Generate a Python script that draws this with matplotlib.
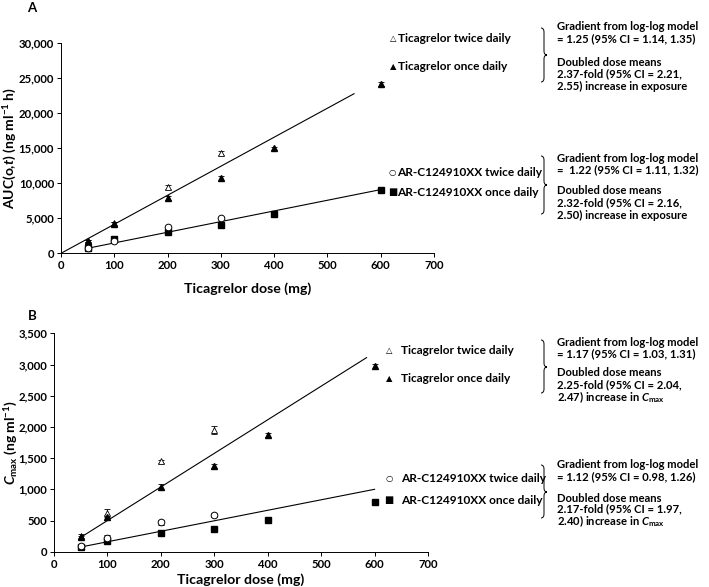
import matplotlib
matplotlib.use("Agg")
import matplotlib.pyplot as plt
from matplotlib import font_manager
from matplotlib.path import Path
from matplotlib.patches import PathPatch

# pick a family that really has a bold face installed
base = 'DejaVu Sans'
for fam in ['Lato', 'Open Sans', 'Noto Sans', 'Roboto']:
    ws = [f.weight for f in font_manager.fontManager.ttflist if f.name == fam]
    ws = [w if isinstance(w, int) else 700 if 'bold' in str(w) else 400 for w in ws]
    if any(w >= 600 for w in ws):
        base = fam
        break

plt.rcParams['font.family'] = [base, 'DejaVu Sans']
plt.rcParams['font.weight'] = 'bold'
plt.rcParams['mathtext.fontset'] = 'custom'
plt.rcParams['mathtext.rm'] = base + ':bold'
plt.rcParams['mathtext.it'] = base + ':bold:italic'
plt.rcParams['mathtext.bf'] = base + ':bold'

# ---- panel A: AUC ----
a_tbid_x = [50, 100, 200, 300]
a_tbid_y = [1800, 4300, 9500, 14300]
a_tbid_e = [150, 200, 250, 250]
a_tqd_x = [50, 100, 200, 300, 400, 600]
a_tqd_y = [1700, 4200, 7900, 10700, 15000, 24200]
a_tqd_e = [150, 250, 250, 300, 250, 250]
a_abid_x = [50, 100, 200, 300]
a_abid_y = [800, 1800, 3700, 5100]
a_aqd_x = [50, 100, 200, 300, 400, 600]
a_aqd_y = [700, 2000, 3100, 4000, 5600, 9000]
a_fit_t_x = [0, 550]
a_fit_t_y = [0, 22800]
a_fit_a_x = [50, 600]
a_fit_a_y = [720, 9100]

# ---- panel B: Cmax ----
b_tbid_x = [50, 100, 200, 300]
b_tbid_y = [250, 620, 1450, 1950]
b_tbid_e = [30, 60, 25, 70]
b_tqd_x = [50, 100, 200, 300, 400, 600]
b_tqd_y = [230, 550, 1040, 1370, 1870, 2970]
b_tqd_e = [25, 40, 45, 30, 25, 40]
b_abid_x = [50, 100, 200, 300]
b_abid_y = [85, 220, 470, 590]
b_abid_e = [15, 50, 40, 30]
b_aqd_x = [50, 100, 200, 300, 400, 600]
b_aqd_y = [80, 170, 300, 370, 510, 800]
b_fit_t_x = [50, 585]
b_fit_t_y = [230, 3110]
b_fit_a_x = [50, 600]
b_fit_a_y = [75, 1000]

W, H = 709, 587
fig = plt.figure(figsize=(W / 100, H / 100), dpi=100)


def px_axes(l, r, t, b):
    return fig.add_axes([l / W, 1 - b / H, (r - l) / W, (b - t) / H])


def style(ax, ymax, ystep):
    ax.set_xlim(0, 700)
    ax.set_ylim(0, ymax)
    ax.set_xticks(range(0, 701, 100))
    ax.set_yticks(range(0, ymax + 1, ystep))
    ax.set_yticklabels([f"{v:,}" for v in range(0, ymax + 1, ystep)])
    for s in ['top', 'right']:
        ax.spines[s].set_visible(False)
    for s in ['left', 'bottom']:
        ax.spines[s].set_linewidth(0.7)
    ax.tick_params(direction='out', length=3, width=0.7, labelsize=8.2, pad=2)
    for lab in ax.get_xticklabels() + ax.get_yticklabels():
        lab.set_fontweight('bold')
    ax.set_xlabel("Ticagrelor dose (mg)", fontsize=10.2, fontweight='bold')


def draw_points(ax, tb, tq, ab, aq):
    k = dict(color='k', clip_on=False, linestyle='none', zorder=3)
    eb = dict(ecolor='k', elinewidth=0.6, capsize=2, capthick=0.6)
    ax.errorbar(tb[0], tb[1], yerr=tb[2], marker='^', ms=5, mfc='white',
                mec='k', mew=0.6, **eb, **k)
    ax.errorbar(tq[0], tq[1], yerr=tq[2], marker='^', ms=4.2, mfc='k',
                mec='k', **eb, **k)
    ax.errorbar(ab[0], ab[1], yerr=ab[2], marker='o', ms=4.8, mfc='white',
                mec='k', mew=0.7, **eb, **k)
    ax.plot(aq[0], aq[1], marker='s', ms=4.8, mfc='k', mec='k', **k)


axA = px_axes(61, 434, 43.3, 253.3)
axA.plot(a_fit_t_x, a_fit_t_y, color='k', lw=0.8)
axA.plot(a_fit_a_x, a_fit_a_y, color='k', lw=0.8)
draw_points(axA, (a_tbid_x, a_tbid_y, a_tbid_e), (a_tqd_x, a_tqd_y, a_tqd_e),
            (a_abid_x, a_abid_y, [0] * 4), (a_aqd_x, a_aqd_y))
style(axA, 30000, 5000)
axA.set_ylabel("AUC(o,$t$) (ng ml$^{-1}$ h)", fontsize=10, fontweight='bold')
axA.yaxis.set_label_coords(-0.112, 0.5)
axA.xaxis.set_label_coords(0.5, -0.14)

axB = px_axes(54, 428, 333.3, 551.7)
axB.plot(b_fit_t_x, b_fit_t_y, color='k', lw=0.8)
axB.plot(b_fit_a_x, b_fit_a_y, color='k', lw=0.8)
draw_points(axB, (b_tbid_x, b_tbid_y, b_tbid_e), (b_tqd_x, b_tqd_y, b_tqd_e),
            (b_abid_x, b_abid_y, b_abid_e), (b_aqd_x, b_aqd_y))
style(axB, 3500, 500)
axB.set_ylabel("$C_{\\mathrm{max}}$ (ng ml$^{-1}$)", fontsize=10, fontweight='bold')
axB.yaxis.set_label_coords(-0.092, 0.5)
axB.xaxis.set_label_coords(0.5, -0.1)

# overlay in pixel coordinates for the annotations
ov = fig.add_axes([0, 0, 1, 1])
ov.set_xlim(0, W)
ov.set_ylim(H, 0)
ov.axis('off')


def brace(x0, yt, ym, yb, w=6):
    xm = x0 + w / 2
    verts = [(x0, yt), (xm, yt), (xm, yt + 4), (xm, ym - 4), (xm, ym), (x0 + w, ym),
             (xm, ym), (xm, ym + 4), (xm, yb - 4), (xm, yb), (x0, yb)]
    codes = [Path.MOVETO, Path.CURVE3, Path.CURVE3, Path.LINETO, Path.CURVE3, Path.CURVE3,
             Path.CURVE3, Path.CURVE3, Path.LINETO, Path.CURVE3, Path.CURVE3]
    ov.add_patch(PathPatch(Path(verts, codes), fill=False, lw=0.7, color='k'))


fs = 8.1
fl = 8.6
sym = ['DejaVu Sans']


def legend_row(xm, xt, y, glyph, label, gsize=6):
    ov.text(xm, y, glyph, family=sym, fontsize=gsize, ha='center', va='center')
    ov.text(xt, y, label, fontsize=fl, fontweight='bold', ha='left', va='center')


def note(x, ys, lines):
    for y, s in zip(ys, lines):
        ov.text(x, y, s, fontsize=fs, fontweight='bold', ha='left', va='center')


ov.text(32, 8, "A", fontsize=9.5, fontweight='bold', ha='center', va='center')
ov.text(32, 316, "B", fontsize=9.5, fontweight='bold', ha='center', va='center')

# panel A notes
legend_row(393, 398, 38, "\u25b3", "Ticagrelor twice daily")
legend_row(393, 398, 67, "\u25b2", "Ticagrelor once daily")
brace(541, 28, 55, 82)
note(557, [27, 39, 62, 74, 86],
     ["Gradient from log-log model", "= 1.25 (95% CI = 1.14, 1.35)",
      "Doubled dose means", "2.37-fold (95% CI = 2.21,", "2.55) increase in exposure"])
legend_row(392, 397, 172, "\u25cb", "AR-C124910XX twice daily")
legend_row(393, 397, 192, "\u25a0", "AR-C124910XX once daily", gsize=7)
brace(541, 156, 185, 214)
note(557, [158, 170, 191, 203, 215],
     ["Gradient from log-log model", "=  1.22 (95% CI = 1.11, 1.32)",
      "Doubled dose means", "2.32-fold (95% CI = 2.16,", "2.50) increase in exposure"])

# panel B notes
legend_row(389, 401, 351, "\u25b3", "Ticagrelor twice daily")
legend_row(389, 401, 379, "\u25b2", "Ticagrelor once daily")
brace(541, 340, 367, 393)
note(557, [342, 354, 373, 385, 397],
     ["Gradient from log-log model", "= 1.17 (95% CI = 1.03, 1.31)",
      "Doubled dose means", "2.25-fold (95% CI = 2.04,",
      "2.47) increase in $C_{\\mathrm{max}}$"])
legend_row(389, 401, 479, "\u25cb", "AR-C124910XX twice daily")
legend_row(389, 401, 500, "\u25a0", "AR-C124910XX once daily", gsize=7)
brace(541, 465, 492, 518)
note(557, [465, 477, 498, 509, 521],
     ["Gradient from log-log model", "= 1.12 (95% CI = 0.98, 1.26)",
      "Doubled dose means", "2.17-fold (95% CI = 1.97,",
      "2.40) increase in $C_{\\mathrm{max}}$"])

fig.savefig("out.png", dpi=100)
